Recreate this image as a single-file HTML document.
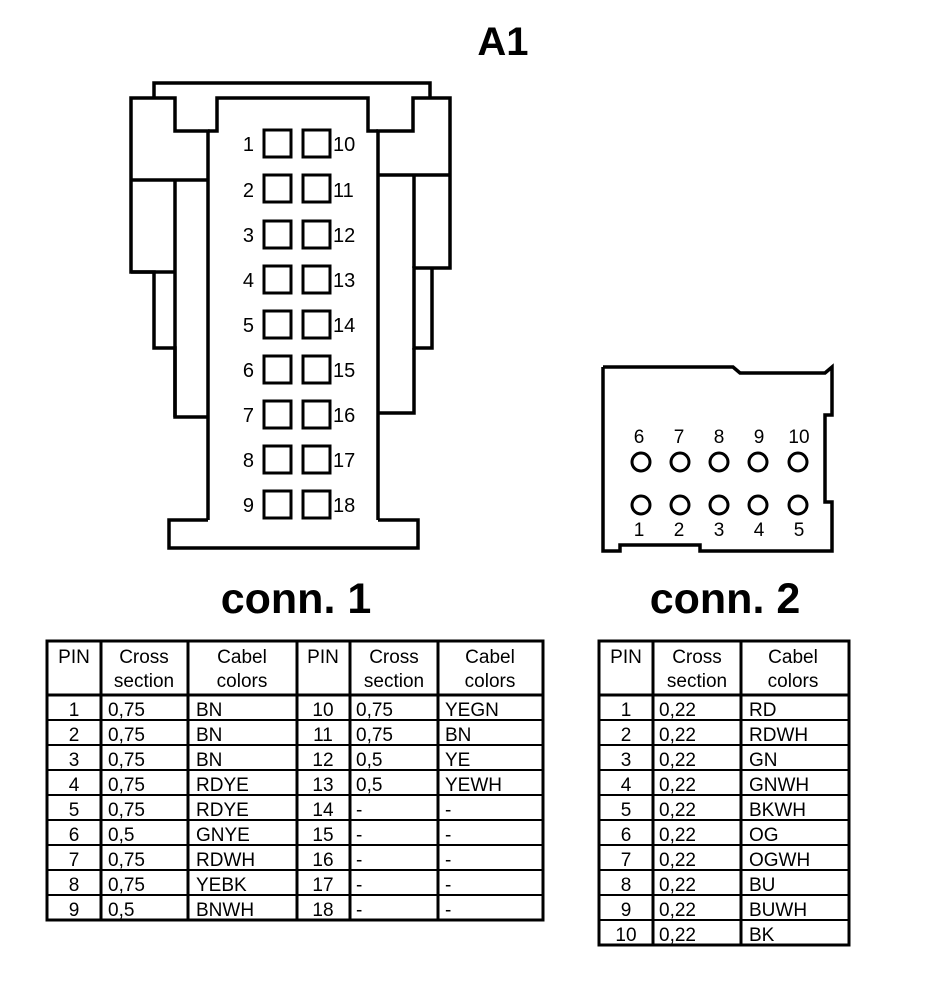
<!DOCTYPE html>
<html><head><style>html,body{margin:0;padding:0;background:#fff}</style></head><body>
<svg width="928" height="1002" viewBox="0 0 928 1002" xmlns="http://www.w3.org/2000/svg" font-family="Liberation Sans, Arial, sans-serif">
<rect width="928" height="1002" fill="#fff"/>
<text x="503" y="55" font-size="40" font-weight="bold" text-anchor="middle">A1</text>
<g fill="none" stroke="#000" stroke-width="3.5">
<polyline points="154,98 154,83 430,83 430,98"/>
<polyline points="208,520 208,131 175,131 175,98 131,98 131,272 154,272 154,348 175,348 175,417 208,417"/>
<line x1="131" y1="180" x2="208" y2="180"/>
<line x1="175" y1="180" x2="175" y2="417"/>
<line x1="131" y1="272" x2="175" y2="272"/>
<polyline points="208,131 217,131 217,98 368,98 368,131 378,131"/>
<polyline points="378,520 378,131 413,131 413,98 450,98 450,268 414,268 414,348 432,348 432,268"/>
<line x1="378" y1="175" x2="450" y2="175"/>
<line x1="414" y1="175" x2="414" y2="268"/>
<polyline points="414,348 414,413 378,413"/>
<polyline points="208,520 169,520 169,548 418,548 418,520 378,520"/>
</g>
<g fill="none" stroke="#000" stroke-width="3">
<rect x="264" y="130" width="27" height="27"/><rect x="303" y="130" width="27" height="27"/>
<rect x="264" y="175" width="27" height="27"/><rect x="303" y="175" width="27" height="27"/>
<rect x="264" y="221" width="27" height="27"/><rect x="303" y="221" width="27" height="27"/>
<rect x="264" y="266" width="27" height="27"/><rect x="303" y="266" width="27" height="27"/>
<rect x="264" y="311" width="27" height="27"/><rect x="303" y="311" width="27" height="27"/>
<rect x="264" y="356" width="27" height="27"/><rect x="303" y="356" width="27" height="27"/>
<rect x="264" y="401" width="27" height="27"/><rect x="303" y="401" width="27" height="27"/>
<rect x="264" y="446" width="27" height="27"/><rect x="303" y="446" width="27" height="27"/>
<rect x="264" y="491" width="27" height="27"/><rect x="303" y="491" width="27" height="27"/>
</g>
<g font-size="20">
<g text-anchor="end">
<text x="254" y="151">1</text><text x="254" y="197">2</text><text x="254" y="242">3</text><text x="254" y="287">4</text><text x="254" y="332">5</text><text x="254" y="377">6</text><text x="254" y="422">7</text><text x="254" y="467">8</text><text x="254" y="512">9</text>
</g>
<text x="333" y="151">10</text><text x="333" y="197">11</text><text x="333" y="242">12</text><text x="333" y="287">13</text><text x="333" y="332">14</text><text x="333" y="377">15</text><text x="333" y="422">16</text><text x="333" y="467">17</text><text x="333" y="512">18</text>
</g>
<polyline fill="none" stroke="#000" stroke-width="3.5" points="603,367 733,367 740,373 825,373 832,367 832,415 825,415 825,502 832,502 832,551 700,551 700,545 620,545 620,551 603,551 603,367"/>
<g fill="none" stroke="#000" stroke-width="3">
<circle cx="641" cy="462" r="9"/><circle cx="680" cy="462" r="9"/><circle cx="719" cy="462" r="9"/><circle cx="758" cy="462" r="9"/><circle cx="798" cy="462" r="9"/>
<circle cx="641" cy="505" r="9"/><circle cx="680" cy="505" r="9"/><circle cx="719" cy="505" r="9"/><circle cx="758" cy="505" r="9"/><circle cx="798" cy="505" r="9"/>
</g>
<g font-size="19" text-anchor="middle">
<text x="639" y="443">6</text><text x="679" y="443">7</text><text x="719" y="443">8</text><text x="759" y="443">9</text><text x="799" y="443">10</text>
<text x="639" y="536">1</text><text x="679" y="536">2</text><text x="719" y="536">3</text><text x="759" y="536">4</text><text x="799" y="536">5</text>
</g>
<text x="296" y="613" font-size="43" font-weight="bold" text-anchor="middle">conn. 1</text>
<text x="725" y="613" font-size="43" font-weight="bold" text-anchor="middle">conn. 2</text>
<g fill="none" stroke="#000" stroke-width="3">
<rect x="47" y="641" width="496" height="279"/>
<line x1="101" y1="641" x2="101" y2="920"/><line x1="188" y1="641" x2="188" y2="920"/><line x1="297" y1="641" x2="297" y2="920"/><line x1="350" y1="641" x2="350" y2="920"/><line x1="438" y1="641" x2="438" y2="920"/>
<line x1="47" y1="695" x2="543" y2="695"/>
</g>
<g stroke="#000" stroke-width="2">
<line x1="47" y1="720" x2="543" y2="720"/><line x1="47" y1="745" x2="543" y2="745"/><line x1="47" y1="770" x2="543" y2="770"/><line x1="47" y1="795" x2="543" y2="795"/><line x1="47" y1="820" x2="543" y2="820"/><line x1="47" y1="845" x2="543" y2="845"/><line x1="47" y1="870" x2="543" y2="870"/><line x1="47" y1="895" x2="543" y2="895"/>
</g>
<g font-size="19">
<g text-anchor="middle">
<text x="74" y="663">PIN</text><text x="144" y="663">Cross</text><text x="144" y="687">section</text><text x="242" y="663">Cabel</text><text x="242" y="687">colors</text>
<text x="323" y="663">PIN</text><text x="394" y="663">Cross</text><text x="394" y="687">section</text><text x="490" y="663">Cabel</text><text x="490" y="687">colors</text>
<text x="74" y="716">1</text><text x="74" y="741">2</text><text x="74" y="766">3</text><text x="74" y="791">4</text><text x="74" y="816">5</text><text x="74" y="841">6</text><text x="74" y="866">7</text><text x="74" y="891">8</text><text x="74" y="916">9</text>
<text x="323" y="716">10</text><text x="323" y="741">11</text><text x="323" y="766">12</text><text x="323" y="791">13</text><text x="323" y="816">14</text><text x="323" y="841">15</text><text x="323" y="866">16</text><text x="323" y="891">17</text><text x="323" y="916">18</text>
</g>
<text x="108" y="716">0,75</text><text x="108" y="741">0,75</text><text x="108" y="766">0,75</text><text x="108" y="791">0,75</text><text x="108" y="816">0,75</text><text x="108" y="841">0,5</text><text x="108" y="866">0,75</text><text x="108" y="891">0,75</text><text x="108" y="916">0,5</text>
<text x="196" y="716">BN</text><text x="196" y="741">BN</text><text x="196" y="766">BN</text><text x="196" y="791">RDYE</text><text x="196" y="816">RDYE</text><text x="196" y="841">GNYE</text><text x="196" y="866">RDWH</text><text x="196" y="891">YEBK</text><text x="196" y="916">BNWH</text>
<text x="356" y="716">0,75</text><text x="356" y="741">0,75</text><text x="356" y="766">0,5</text><text x="356" y="791">0,5</text><text x="356" y="816">-</text><text x="356" y="841">-</text><text x="356" y="866">-</text><text x="356" y="891">-</text><text x="356" y="916">-</text>
<text x="445" y="716">YEGN</text><text x="445" y="741">BN</text><text x="445" y="766">YE</text><text x="445" y="791">YEWH</text><text x="445" y="816">-</text><text x="445" y="841">-</text><text x="445" y="866">-</text><text x="445" y="891">-</text><text x="445" y="916">-</text>
</g>
<g fill="none" stroke="#000" stroke-width="3">
<rect x="599" y="641" width="250" height="304"/>
<line x1="653" y1="641" x2="653" y2="945"/><line x1="741" y1="641" x2="741" y2="945"/>
<line x1="599" y1="695" x2="849" y2="695"/>
</g>
<g stroke="#000" stroke-width="2">
<line x1="599" y1="720" x2="849" y2="720"/><line x1="599" y1="745" x2="849" y2="745"/><line x1="599" y1="770" x2="849" y2="770"/><line x1="599" y1="795" x2="849" y2="795"/><line x1="599" y1="820" x2="849" y2="820"/><line x1="599" y1="845" x2="849" y2="845"/><line x1="599" y1="870" x2="849" y2="870"/><line x1="599" y1="895" x2="849" y2="895"/><line x1="599" y1="920" x2="849" y2="920"/>
</g>
<g font-size="19">
<g text-anchor="middle">
<text x="626" y="663">PIN</text><text x="697" y="663">Cross</text><text x="697" y="687">section</text><text x="793" y="663">Cabel</text><text x="793" y="687">colors</text>
<text x="626" y="716">1</text><text x="626" y="741">2</text><text x="626" y="766">3</text><text x="626" y="791">4</text><text x="626" y="816">5</text><text x="626" y="841">6</text><text x="626" y="866">7</text><text x="626" y="891">8</text><text x="626" y="916">9</text><text x="626" y="941">10</text>
</g>
<text x="659" y="716">0,22</text><text x="659" y="741">0,22</text><text x="659" y="766">0,22</text><text x="659" y="791">0,22</text><text x="659" y="816">0,22</text><text x="659" y="841">0,22</text><text x="659" y="866">0,22</text><text x="659" y="891">0,22</text><text x="659" y="916">0,22</text><text x="659" y="941">0,22</text>
<text x="749" y="716">RD</text><text x="749" y="741">RDWH</text><text x="749" y="766">GN</text><text x="749" y="791">GNWH</text><text x="749" y="816">BKWH</text><text x="749" y="841">OG</text><text x="749" y="866">OGWH</text><text x="749" y="891">BU</text><text x="749" y="916">BUWH</text><text x="749" y="941">BK</text>
</g>
</svg>
</body></html>
